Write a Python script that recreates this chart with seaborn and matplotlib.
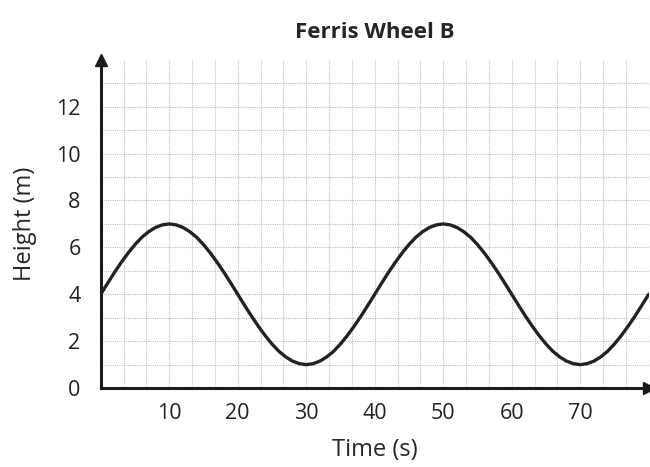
import numpy as np
import pandas as pd
import seaborn as sns
import matplotlib.pyplot as plt

# heights every second
time_s = list(range(0, 81))
height_m = [4.00, 4.47, 4.93, 5.36, 5.76, 6.12, 6.43, 6.67, 6.85, 6.96,
            7.00, 6.96, 6.85, 6.67, 6.43, 6.12, 5.76, 5.36, 4.93, 4.47,
            4.00, 3.53, 3.07, 2.64, 2.24, 1.88, 1.57, 1.33, 1.15, 1.04,
            1.00, 1.04, 1.15, 1.33, 1.57, 1.88, 2.24, 2.64, 3.07, 3.53,
            4.00, 4.47, 4.93, 5.36, 5.76, 6.12, 6.43, 6.67, 6.85, 6.96,
            7.00, 6.96, 6.85, 6.67, 6.43, 6.12, 5.76, 5.36, 4.93, 4.47,
            4.00, 3.53, 3.07, 2.64, 2.24, 1.88, 1.57, 1.33, 1.15, 1.04,
            1.00, 1.04, 1.15, 1.33, 1.57, 1.88, 2.24, 2.64, 3.07, 3.53,
            4.00]
x_ticks = [10, 20, 30, 40, 50, 60, 70]
y_ticks = [0, 2, 4, 6, 8, 10, 12]

df = pd.DataFrame({'Time (s)': time_s, 'Height (m)': height_m})

sns.set_style('white')
plt.rcParams['font.family'] = ['Open Sans', 'DejaVu Sans']

fig = plt.figure(figsize=(6.5, 4.67), dpi=100)
ax = fig.add_axes([0.155, 0.169, 0.843, 0.703])

# graph-paper grid
for gx in np.arange(10/3, 80, 10/3):
    ax.axvline(gx, color='#bdbdbd', lw=0.8, ls=(0, (1, 1)), zorder=0)
for gy in range(1, 14):
    ax.axhline(gy, color='#bdbdbd', lw=0.8, ls=(0, (1, 1)), zorder=0)

sns.lineplot(data=df, x='Time (s)', y='Height (m)', color='#222222', lw=2.4, ax=ax, zorder=3)

ax.set_xlim(0, 80)
ax.set_ylim(0, 14)
ax.set_xticks(x_ticks)
ax.set_yticks(y_ticks)
ax.tick_params(axis='both', labelsize=15.5, direction='inout', length=5, width=1.2, colors='#222222')
ax.tick_params(axis='x', pad=8)
ax.tick_params(axis='y', pad=12)

for s in ['top', 'right']:
    ax.spines[s].set_visible(False)
for s in ['left', 'bottom']:
    ax.spines[s].set_linewidth(2.2)
    ax.spines[s].set_color('#1a1a1a')

# axis arrows
ax.plot(0, 1, marker='^', ms=8, color='#1a1a1a', transform=ax.transAxes, clip_on=False)
ax.plot(1, 0, marker='>', ms=8, color='#1a1a1a', transform=ax.transAxes, clip_on=False)

ax.set_xlabel('Time (s)', fontsize=17, labelpad=10)
ax.set_ylabel('Height (m)', fontsize=17, labelpad=14)
ax.set_title('Ferris Wheel B', fontsize=16, fontweight='bold', pad=16)

fig.savefig('out.png', dpi=100)
